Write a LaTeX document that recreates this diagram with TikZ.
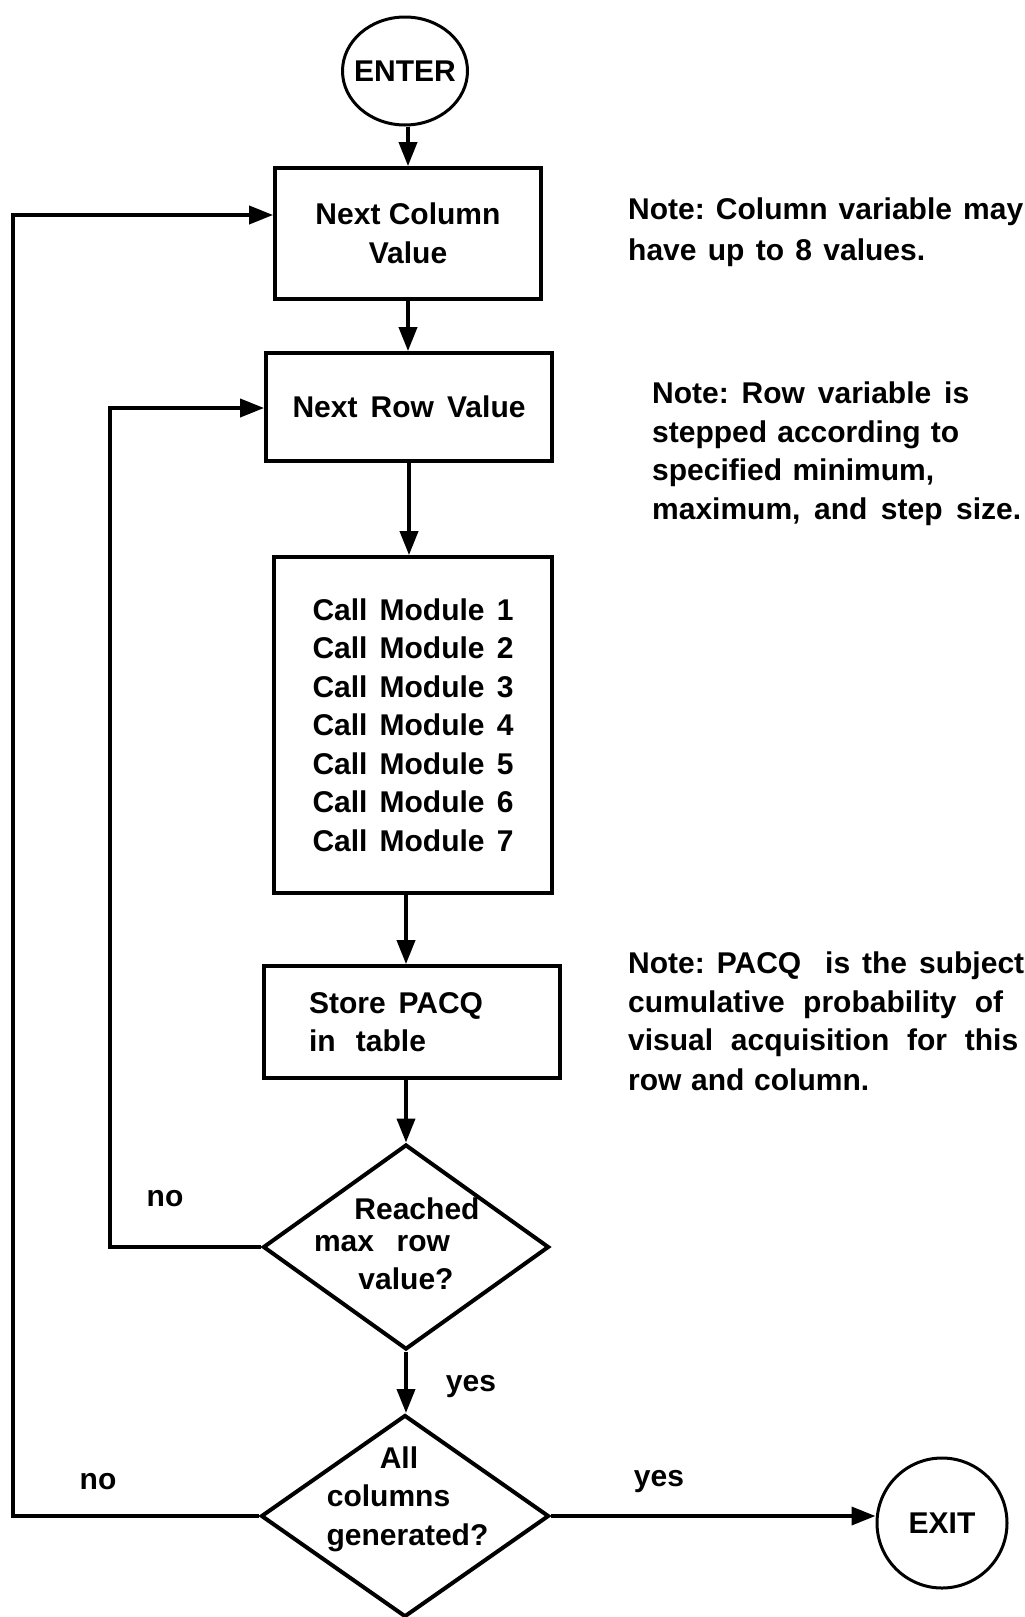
\documentclass[tikz,border=0pt]{standalone}
\usepackage{fontspec}
\setmainfont{Liberation Sans}
\usetikzlibrary{arrows.meta,shapes.geometric}
\newcommand\jl[2]{\makebox[#1pt][s]{#2}}
\newcommand\pad[1]{\makebox[#1pt]{}}
\frenchspacing
\begin{document}
\begin{tikzpicture}[x=1pt,y=-1pt,
  every node/.style={font=\fontsize{30}{38.5}\selectfont\bfseries, inner sep=0pt},
  box/.style={draw, line width=3.8pt, align=center},
  dia/.style={draw, diamond, line width=4pt},
  term/.style={draw, line width=3pt},
  arr/.style={line width=3.8pt, -{Triangle[length=24pt,width=18pt]}},
  txt/.style={align=left}
]
\useasboundingbox[fill=white] (0,0) rectangle (1025,1617);

% terminals
\node[term, ellipse, minimum width=125pt, minimum height=108pt] (enter) at (405,71) {\makebox[0pt]{ENTER}};
\node[term, circle, minimum size=130pt] (exit) at (942,1523) {\makebox[0pt]{EXIT}};

% process boxes
\node[box, minimum width=266pt, minimum height=131pt] (b1) at (408,233.5) {Next Column\\Value};
\node[box, minimum width=286pt, minimum height=108pt] (b2) at (409,407) {\jl{233}{Next Row Value}};
\node[box, minimum width=278pt, minimum height=336pt, align=left] (b3) at (413,725)
  {\raisebox{3pt}{\parbox{201pt}{\jl{201}{Call Module 1}\\\jl{201}{Call Module 2}\\\jl{201}{Call Module 3}\\\jl{201}{Call Module 4}\\\jl{201}{Call Module 5}\\\jl{201}{Call Module 6}\\\jl{201}{Call Module 7}}}};
\node[box, minimum width=296pt, minimum height=112pt, align=left] (b4) at (412,1022)
  {\raisebox{3pt}{\parbox{206pt}{\jl{174}{Store PACQ}\\\jl{117}{in table}}}};

% decisions
\node[dia, minimum width=286pt, minimum height=205pt,
  label={[align=center,yshift=3pt]center:\pad{22}Reached\\[-6.5pt]\jl{136}{max row}\pad{48}\\value?}] (d1) at (406,1247) {};
\node[dia, minimum width=288pt, minimum height=202pt,
  label={[align=center,yshift=17pt]center:All\pad{12}\\columns\pad{33}\\\pad{5}generated?}] (d2) at (405,1516) {};

% loop corners
\coordinate (li) at (110,408);
\coordinate (lo) at (13,215);

% connectors
\draw[arr] (b1.north |- enter.south) -- (b1.north);
\draw[arr] (b1.south) -- (b1.south |- b2.north);
\draw[arr] (b2.south) -- (b2.south |- b3.north);
\draw[arr] (d1.north |- b3.south) -- (d1.north |- b4.north);
\draw[arr] (d1.north |- b4.south) -- (d1.north);
\draw[arr] (d1.south) -- (d1.south |- d2.north);
\draw[arr] (d1.west) -- (d1.west -| li) -- (li) -- (b2.west |- li);
\draw[arr] (d2.west) -- (d2.west -| lo) -- (lo) -- (b1.west |- lo);
\draw[arr] (d2.east) -- (d2.east -| exit.west);

% branch labels
\node (no1) at (165,1199) {no};
\node (yes1) at (471,1387) {yes};
\node (no2) at (98,1482) {no};
\node (yes2) at (659,1482) {yes};

% notes
\node[txt, anchor=north west] (n1) at (628,198)
  {\jl{395}{Note: Column variable may}\\[2pt]\jl{297}{have up to 8 values.}};
\node[txt, anchor=north west] (n2) at (652,382)
  {\jl{317}{Note: Row variable is}\\\jl{307}{stepped according to}\\\jl{282}{specified minimum,}\\\jl{369}{maximum, and step size.}};
\node[txt, anchor=north west] (n3) at (628,952)
  {\jl{396}{Note: PACQ\ \ is the subject}\\\jl{375}{cumulative probability of}\\\jl{390}{visual acquisition for this}\\[1pt]\jl{241}{row and column.}};
\end{tikzpicture}
\end{document}
